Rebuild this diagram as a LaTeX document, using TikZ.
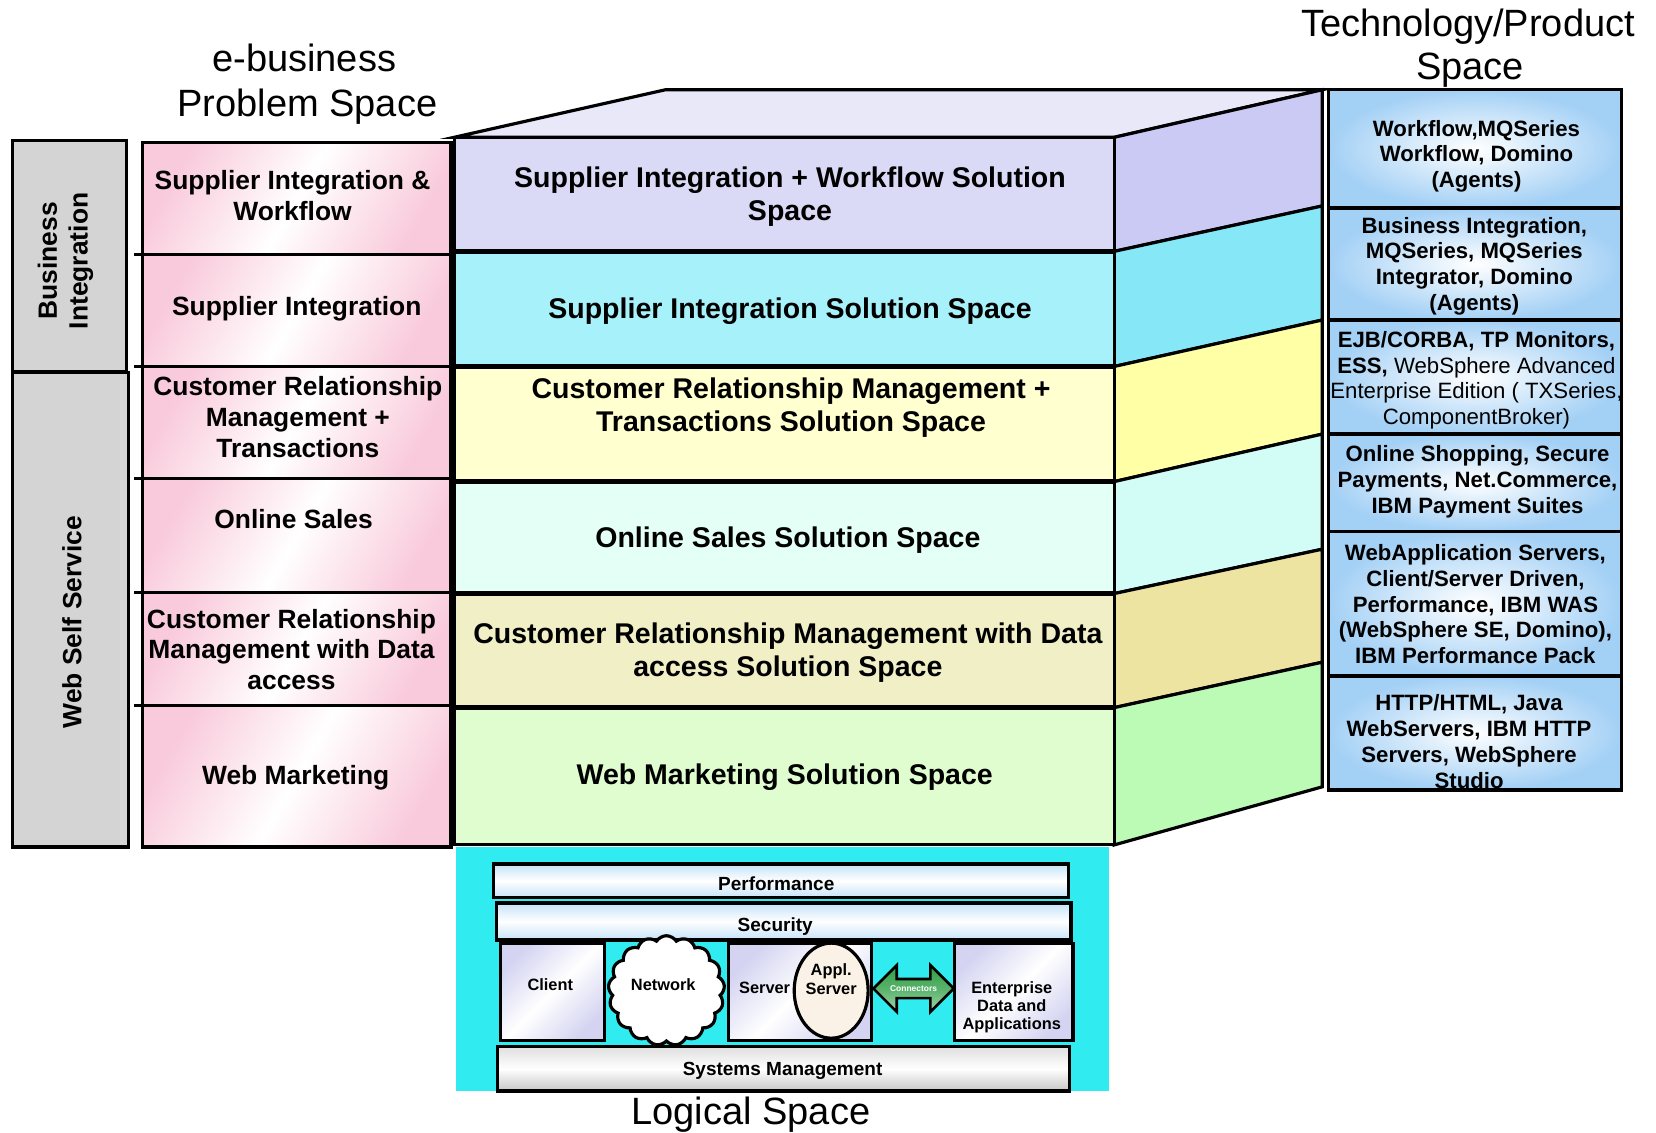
\documentclass[tikz,border=0pt]{standalone}
\usepackage{fontspec}
\setmainfont{Liberation Sans}
\usetikzlibrary{shapes.symbols,shapes.arrows,shapes.geometric}

\definecolor{greyc}{HTML}{D4D4D4}
\definecolor{pinkc}{HTML}{F9CADB}
\definecolor{topf}{HTML}{E8E8F8}
\definecolor{rAf}{HTML}{DADAF6}\definecolor{rAs}{HTML}{CACAF5}
\definecolor{rBf}{HTML}{A6F1FA}\definecolor{rBs}{HTML}{86E7F7}
\definecolor{rCf}{HTML}{FFFFCF}\definecolor{rCs}{HTML}{FFFFA6}
\definecolor{rDf}{HTML}{E4FFF5}\definecolor{rDs}{HTML}{D2FDF6}
\definecolor{rEf}{HTML}{F1EFC6}\definecolor{rEs}{HTML}{ECE4A0}
\definecolor{rFf}{HTML}{DFFDCF}\definecolor{rFs}{HTML}{BCFBB6}
\definecolor{techc}{HTML}{A3D0F5}
\definecolor{cyanbg}{HTML}{30ECF0}
\definecolor{barblue}{HTML}{C5E2F8}
\definecolor{lav}{HTML}{D4D4F2}
\definecolor{cream}{HTML}{FAF2E6}
\definecolor{arrowg}{HTML}{2F9F45}

\tikzset{
  thickline/.style={draw=black, line width=3pt},
  greybox/.style={thickline, fill=greyc},
  pinkbox/.style={thickline, left color=pinkc, right color=pinkc, middle color=white, shading angle=60},
  techbox/.style={thickline, inner color=white, outer color=techc},
  bluebar/.style={thickline, top color=barblue, bottom color=barblue, middle color=white},
  greybar/.style={thickline, top color=gray!25, bottom color=gray!45, middle color=white},
  lavbox/.style={thickline, left color=lav, right color=lav, middle color=white, shading angle=45},
  titletxt/.style={font=\fontsize{36}{44}\selectfont, align=center, inner sep=0pt},
  probtxt/.style={font=\bfseries\fontsize{25}{29}\selectfont, align=center, inner sep=0pt},
  soltxt/.style={font=\bfseries\fontsize{27}{31}\selectfont, align=center, inner sep=0pt},
  techtxt/.style={font=\bfseries\fontsize{21}{24.5}\selectfont, align=center, inner sep=0pt},
  bartxt/.style={font=\bfseries\fontsize{18}{20}\selectfont, inner sep=0pt},
  smalltxt/.style={font=\bfseries\fontsize{15.5}{17}\selectfont, align=center, inner sep=0pt},
}

\begin{document}
\begin{tikzpicture}[x=1pt,y=-1pt,line join=miter]
\useasboundingbox (0,0) rectangle (1568,1072);
\fill[white] (0,0) rectangle (1568,1072);

% ---------- titles
\node[titletxt] (t1a) at (288,55) {e-business};
\node[titletxt] (t1b) at (291,101) {Problem Space};
\node[titletxt] (t2a) at (1390,25) {Technology/Product};
\node[titletxt] (t2b) at (1392,66) {Space};
\node[titletxt] (t3) at (711,1055) {Logical Space};

% ---------- grey category boxes
\draw[greybox] (12,133) rectangle (120,352);
\draw[greybox] (12,353) rectangle (122,802);
\node[probtxt, rotate=90] (bi) at (62,247) {Business\\Integration};
\node[probtxt, rotate=90] (wss) at (68,589) {Web Self Service};

% ---------- problem space column
\foreach \a/\b in {135/241,241/347,347/453,453/561,561/668,668/802}
  \draw[pinkbox] (135,\a) rectangle (427,\b);
\foreach \y in {241,347,453,561,668}
  \draw[thickline] (127,\y) -- (135,\y);
\node[probtxt] (p1) at (277,185) {Supplier Integration \&\\Workflow};
\node[probtxt] (p2) at (281,292) {Supplier Integration};
\node[probtxt] (p3) at (282,395) {Customer Relationship\\Management +\\Transactions};
\node[probtxt] (p4) at (278,491) {Online Sales};
\node[probtxt] (p5) at (276,615) {Customer Relationship\\Management with Data\\access};
\node[probtxt] (p6) at (280,736) {Web Marketing};

% ---------- solution space block (3-D)
\coordinate (fl) at (430,130);
\coordinate (fr) at (1055,130);
\coordinate (bl) at (630,85);
\coordinate (br) at (1252,85);
\filldraw[fill=topf, thickline] (fl) -- (bl) -- (br) -- (fr) -- cycle;
\foreach \fa/\fb/\ba/\bb/\cf/\cs in {
   130/238/85/195/rAf/rAs,
   238/347/195/303/rBf/rBs,
   347/456/303/411/rCf/rCs,
   456/562/411/520/rDf/rDs,
   562/670/520/627/rEf/rEs,
   670/800/627/745/rFf/rFs}{
  \filldraw[fill=\cs, thickline] (1055,\fa) -- (1252,\ba) -- (1252,\bb) -- (1055,\fb) -- cycle;
  \filldraw[fill=\cf, thickline] (430,\fa) rectangle (1055,\fb);
}
\foreach \y in {238,347,456,562,670}
  \draw[line width=4.5pt] (430,\y) -- (1055,\y);
\node[soltxt] (s1) at (748,186) {Supplier Integration + Workflow Solution\\Space};
\node[soltxt] (s2) at (748,295) {Supplier Integration Solution Space};
\node[soltxt] (s3) at (749,386) {Customer Relationship Management +\\Transactions Solution Space};
\node[soltxt] (s4) at (746,511) {Online Sales Solution Space};
\node[soltxt] (s5) at (746,618) {Customer Relationship Management with Data\\access Solution Space};
\node[soltxt] (s6) at (743,736) {Web Marketing Solution Space};

% ---------- technology / product column
\foreach \a/\b in {85/197,197/303,303/411,411/503,503/640,640/748}
  \draw[techbox] (1258,\a) rectangle (1535,\b);
\node[techtxt] (q1) at (1398,148) {Workflow,MQSeries\\Workflow, Domino\\(Agents)};
\node[techtxt] (q2) at (1396,252) {Business Integration,\\MQSeries, MQSeries\\Integrator, Domino\\(Agents)};
\node[techtxt] (q3) at (1398,360) {EJB/CORBA, TP Monitors,\\ESS, \mdseries WebSphere Advanced\\\mdseries Enterprise Edition ( TXSeries,\\\mdseries ComponentBroker)};
\node[techtxt] (q4) at (1399,456) {Online Shopping, Secure\\Payments, Net.Commerce,\\IBM Payment Suites};
\node[techtxt] (q5) at (1397,572) {WebApplication Servers,\\Client/Server Driven,\\Performance, IBM WAS\\(WebSphere SE, Domino),\\IBM Performance Pack};
\node[techtxt] (q6) at (1391,702) {HTTP/HTML, Java\\WebServers, IBM HTTP\\Servers, WebSphere\\Studio};

% ---------- logical space
\fill[cyanbg] (432,802) rectangle (1050,1033);
\draw[bluebar] (467,818) rectangle (1012,850);
\node[bartxt] (perf) at (735,837) {Performance};
\draw[bluebar] (470,855) rectangle (1014,890);
\node[bartxt] (sec) at (734,877) {Security};
\draw[greybar] (471,991) rectangle (1013,1033);
\node[bartxt] (sysm) at (741,1014) {Systems Management};

\draw[lavbox] (474,893) rectangle (572,985);
\node[smalltxt] (client) at (521,932) {Client};

\node[cloud, cloud puffs=17, cloud puff arc=115, cloud ignores aspect, draw=black,
      line width=3pt, fill=white, minimum width=110pt, minimum height=104pt,
      inner sep=0pt] (cloudn) at (631,938) {};
\node[smalltxt] (net) at (628,932) {Network};

\draw[lavbox] (690,893) rectangle (825,985);
\node[smalltxt] (server) at (724,935) {Server};
\node[ellipse, draw=black, line width=3pt, fill=cream, minimum width=70pt,
      minimum height=90pt, inner sep=0pt] (applell) at (787,938) {};
\node[smalltxt, align=center, font=\bfseries\fontsize{15.5}{18}\selectfont] (appl) at (787,927) {Appl.\\Server};

\draw[lavbox] (904,893) rectangle (1016,985);
\node[smalltxt] (ent) at (958,954) {Enterprise\\Data and\\Applications};

\node[double arrow, draw=black, line width=2.5pt, double arrow head extend=13pt,
      minimum height=76pt, inner xsep=1pt, inner ysep=5pt,
      top color=arrowg, bottom color=white!55!arrowg, middle color=arrowg!80,
      font=\bfseries\fontsize{8}{9}\selectfont, text=white] (conn) at (865,936) {Connectors};
\end{tikzpicture}
\end{document}
